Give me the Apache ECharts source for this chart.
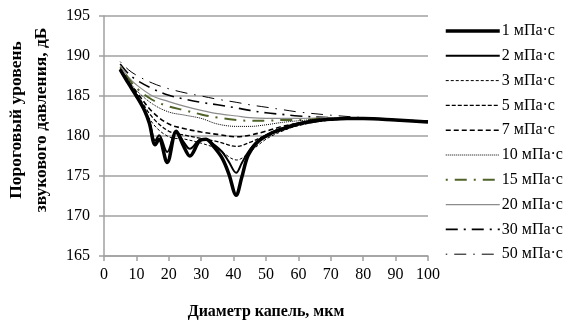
<!DOCTYPE html>
<html>
<head>
<meta charset="utf-8">
<script src="https://cdn.jsdelivr.net/npm/echarts@6/dist/echarts.min.js"></script>
<style>
  html, body { margin: 0; padding: 0; background: #fff; }
  #chart { width: 574px; height: 321px; }
</style>
</head>
<body>
<div id="chart"></div>
<script>
// x grids (diameter, um)
const xFine = [5, 7.5, 10, 12.5, 14, 15.8, 17, 19.5, 22.3, 24.5, 26.5, 29.5, 31.5, 34, 36.5, 38.5, 40.8, 42.5, 44.5, 47.5, 52, 56, 60, 65, 70, 75, 80, 90, 100];
const xCoarse = [5, 7.5, 10, 15, 20, 25, 30, 35, 41, 45, 50, 55, 60, 70, 80, 90, 100];

// threshold levels, dB
const v1 = [188.3, 186.6, 185.0, 183.2, 181.6, 178.9, 179.6, 176.7, 180.6, 178.8, 177.5, 179.4, 179.6, 178.6, 177.2, 175.3, 172.6, 174.8, 177.6, 179.3, 180.4, 181.0, 181.5, 181.9, 182.1, 182.2, 182.2, 182.0, 181.75];
const v2 = [188.3, 186.6, 185.1, 183.3, 181.8, 179.4, 180.1, 178.0, 180.6, 179.3, 178.4, 179.5, 179.6, 178.9, 178.0, 176.8, 175.4, 176.6, 178.0, 179.4, 180.5, 181.1, 181.6, 181.9, 182.1, 182.2, 182.2, 182.0, 181.8];
const v3 = [188.3, 186.6, 185.2, 181.6, 179.9, 179.6, 179.1, 178.4, 177.0, 178.0, 179.6, 180.6, 181.3, 182.0, 182.2, 182.0, 181.8];
const v5 = [188.3, 186.7, 185.3, 182.3, 180.6, 180.1, 179.7, 179.3, 178.7, 179.2, 180.1, 180.9, 181.4, 182.0, 182.2, 182.0, 181.8];
const v7 = [188.4, 186.8, 185.5, 183.0, 181.5, 180.9, 180.5, 180.2, 179.9, 180.1, 180.6, 181.2, 181.6, 182.1, 182.2, 182.0, 181.8];
const v10 = [188.5, 187.0, 185.7, 184.0, 183.0, 182.6, 182.2, 181.5, 181.2, 181.2, 181.4, 181.7, 181.9, 182.2, 182.2, 182.0, 181.8];
const v15 = [188.6, 187.2, 186.0, 184.5, 183.7, 183.2, 182.7, 182.3, 182.0, 181.9, 181.9, 182.0, 182.0, 182.2, 182.2, 182.0, 181.8];
const v20 = [188.8, 187.4, 186.4, 185.0, 184.3, 183.7, 183.2, 182.8, 182.5, 182.3, 182.2, 182.2, 182.2, 182.3, 182.2, 182.0, 181.8];
const v30 = [189.0, 187.8, 187.0, 185.9, 185.1, 184.6, 184.2, 183.9, 183.5, 183.2, 182.9, 182.7, 182.5, 182.3, 182.2, 182.0, 181.8];
const v50 = [189.3, 188.3, 187.6, 186.6, 185.9, 185.4, 185.0, 184.6, 184.2, 183.9, 183.6, 183.3, 183.0, 182.6, 182.3, 182.0, 181.8];

const names = ["1 мПа·с", "2 мПа·с", "3 мПа·с", "5 мПа·с", "7 мПа·с", "10 мПа·с", "15 мПа·с", "20 мПа·с", "30 мПа·с", "50 мПа·с"];

const zip = (xs, ys) => xs.map((x, i) => [x, ys[i]]);

const styles = [
  { color: "#000", width: 3.5, type: "solid" },
  { color: "#000", width: 2, type: "solid" },
  { color: "#000", width: 1, type: [3, 2] },
  { color: "#000", width: 1.3, type: [4, 2] },
  { color: "#000", width: 1.6, type: [5, 3] },
  { color: "#000", width: 1, type: [1, 1] },
  { color: "#4f6228", width: 2, type: [2, 7, 12, 7] },
  { color: "#8c8c8c", width: 1.2, type: "solid" },
  { color: "#000", width: 1.6, type: [12, 6, 2, 6] },
  { color: "#000", width: 1, type: [1.5, 7, 12, 7] }
];
const datas = [zip(xFine, v1), zip(xFine, v2), zip(xCoarse, v3), zip(xCoarse, v5), zip(xCoarse, v7),
  zip(xCoarse, v10), zip(xCoarse, v15), zip(xCoarse, v20), zip(xCoarse, v30), zip(xCoarse, v50)];

const font = "Liberation Serif";
const chart = echarts.init(document.getElementById("chart"));
const option = {
  animation: false,
  textStyle: { fontFamily: font },
  grid: { left: 104, right: 146, top: 16, bottom: 65, containLabel: false, outerBoundsMode: "none" },
  legend: {
    orient: "vertical",
    left: 444,
    top: 23,
    padding: 0,
    itemWidth: 54,
    itemHeight: 16,
    itemGap: 8.8,
    itemStyle: { opacity: 0 },
    textStyle: { fontFamily: font, fontSize: 16, lineHeight: 16, color: "#000", padding: [0, 0, 0, -3] },
    data: names.map((n, i) => ({
      name: n,
      lineStyle: { width: styles[i].width, type: styles[i].type, color: styles[i].color }
    }))
  },
  xAxis: {
    type: "value",
    min: 0, max: 100, interval: 10,
    name: "Диаметр капель, мкм",
    nameLocation: "middle",
    nameGap: 48,
    nameTextStyle: { fontFamily: font, fontSize: 16, fontWeight: "bold", color: "#000" },
    axisLine: { lineStyle: { color: "#a0a0a0", width: 1.5 } },
    axisTick: { show: true, length: 5, lineStyle: { color: "#a0a0a0", width: 1.5 } },
    axisLabel: { fontFamily: font, fontSize: 16, color: "#000", margin: 11 },
    splitLine: { show: false }
  },
  yAxis: {
    type: "value",
    min: 165, max: 195, interval: 5,
    name: "Пороговый уровень\nзвукового давления, дБ",
    nameLocation: "middle",
    nameGap: 50,
    nameTextStyle: { fontFamily: font, fontSize: 17.5, fontWeight: "bold", color: "#000", lineHeight: 25, padding: [0, 0, 0, 32] },
    axisLine: { show: true, lineStyle: { color: "#a0a0a0", width: 1.5 } },
    axisTick: { show: true, length: 5, lineStyle: { color: "#a0a0a0", width: 1.5 } },
    axisLabel: { fontFamily: font, fontSize: 16, color: "#000", margin: 14 },
    splitLine: { show: true, lineStyle: { color: "#a0a0a0", width: 1.5 } }
  },
  series: names.map((n, i) => ({
    name: n,
    type: "line",
    smooth: 0.35,
    showSymbol: false,
    symbol: "none",
    data: datas[i],
    lineStyle: styles[i],
    itemStyle: { color: styles[i].color },
    z: 20 - i
  }))
};
chart.setOption(option);
</script>
</body>
</html>
